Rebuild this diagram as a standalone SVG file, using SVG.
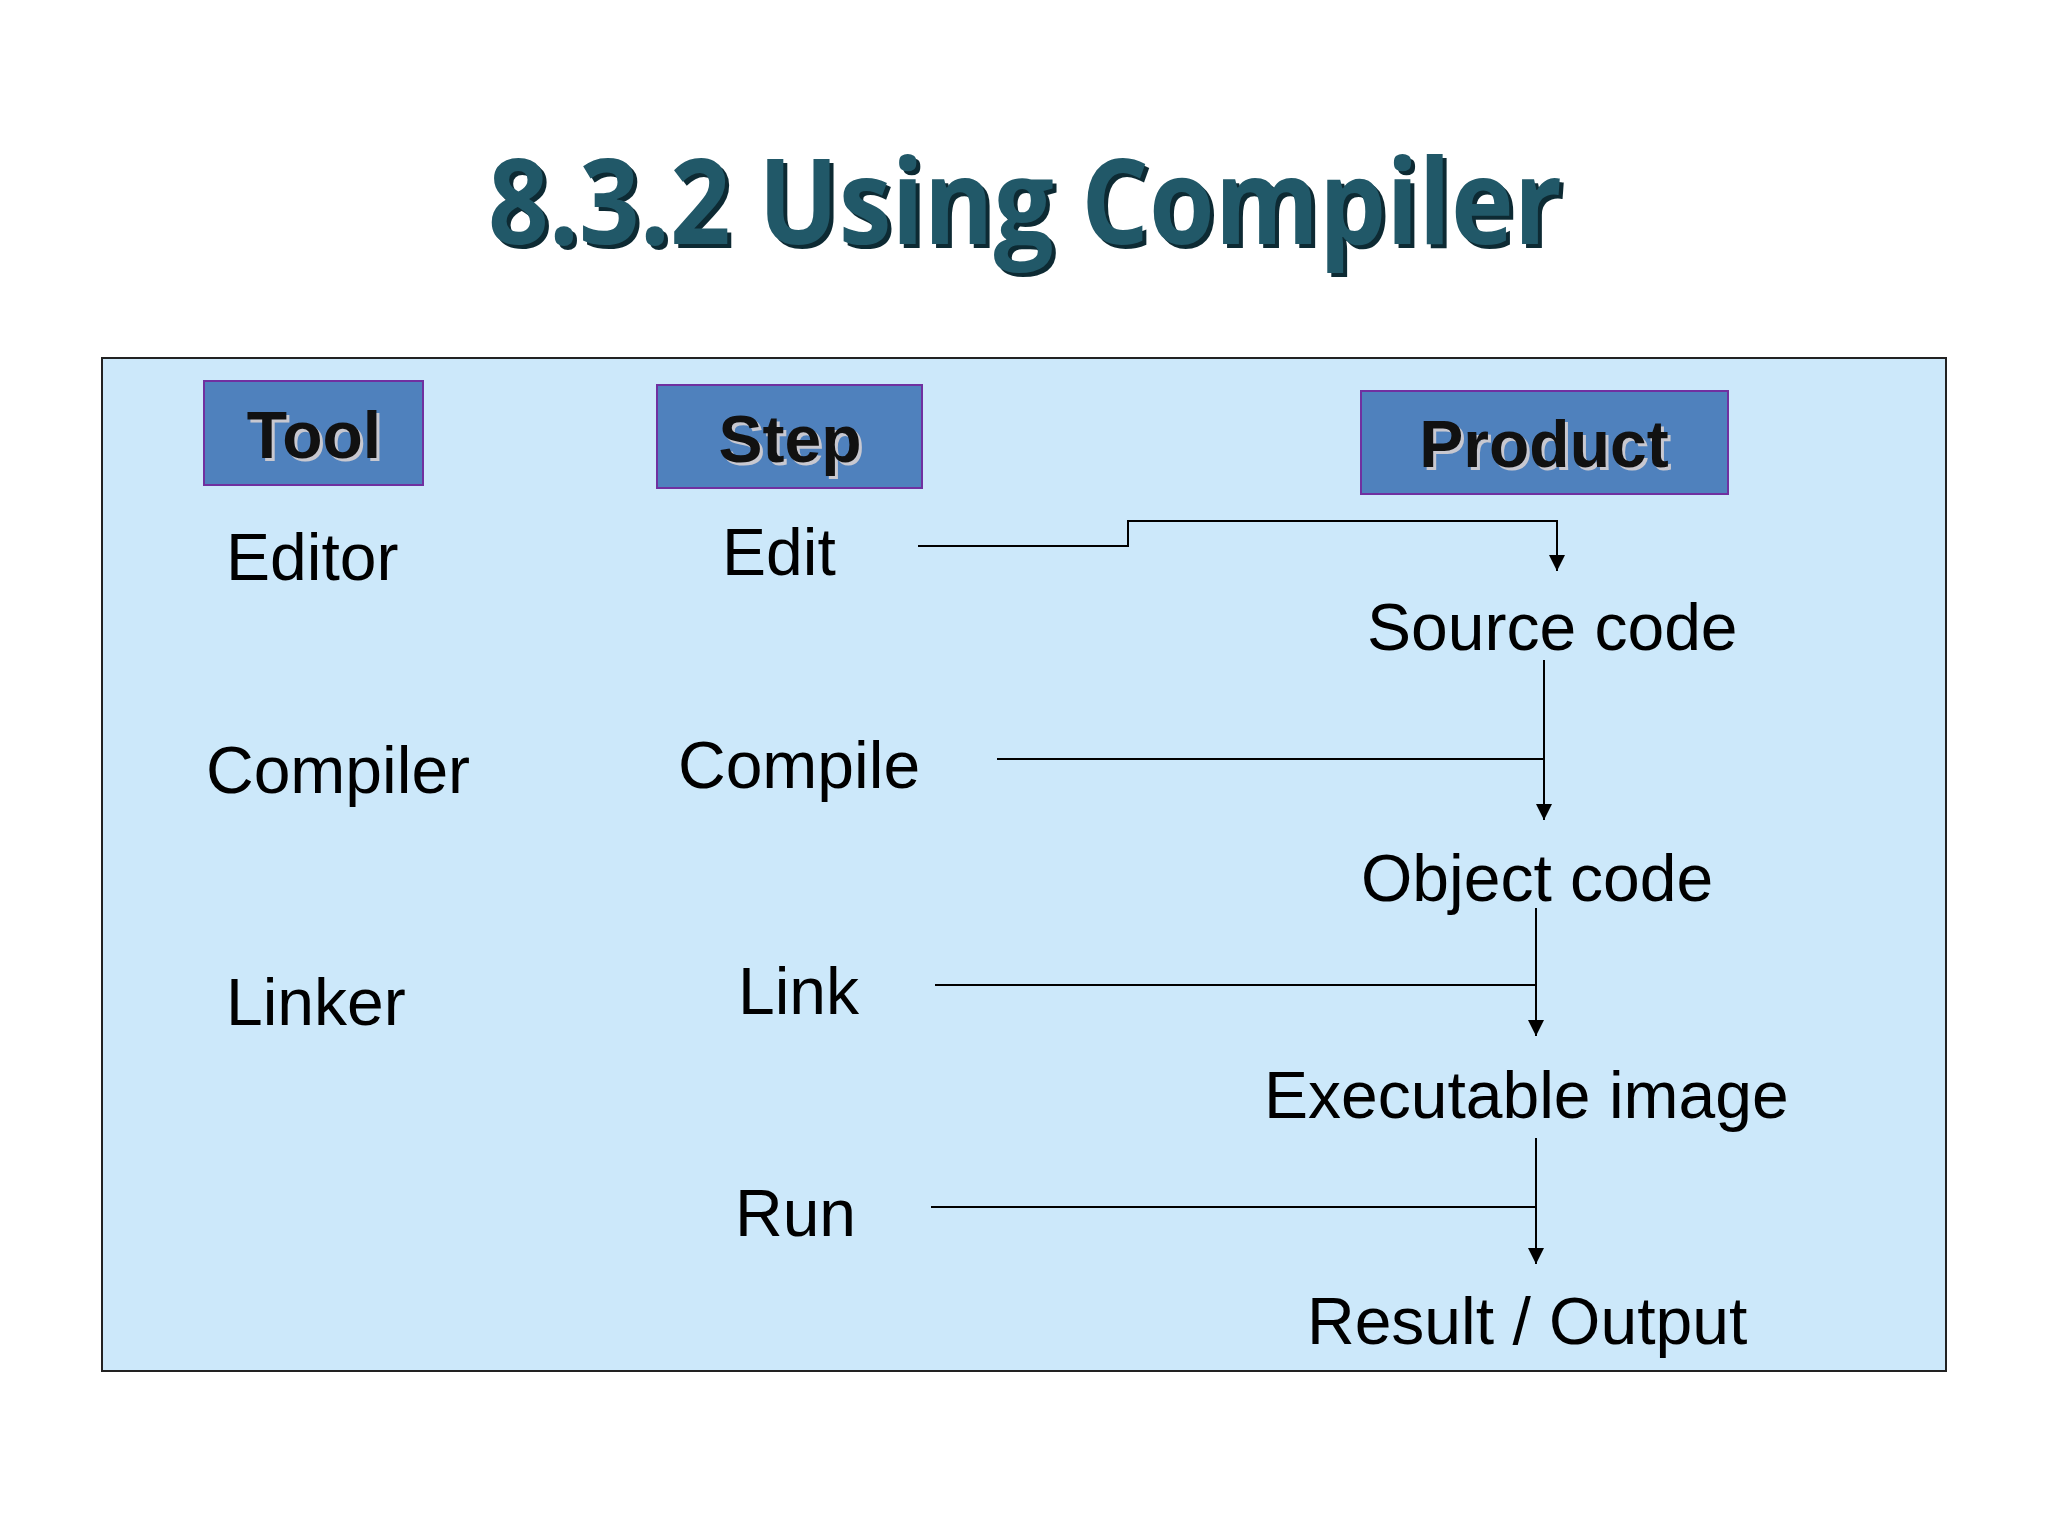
<svg xmlns="http://www.w3.org/2000/svg" width="2048" height="1536" viewBox="0 0 2048 1536">
<style>
.lbl{font-family:"Liberation Sans",Arial,sans-serif;font-size:66px;fill:#000}
.hdr{font-family:"Liberation Sans",Arial,sans-serif;font-size:66px;font-weight:bold;fill:#111;text-anchor:middle}
.hsh{font-family:"Liberation Sans",Arial,sans-serif;font-size:66px;font-weight:bold;fill:#c8c8d0;text-anchor:middle}
.box{fill:#4f81bd;stroke:#7030a0;stroke-width:2}
.ln{fill:none;stroke:#000;stroke-width:2}
</style>
<defs><marker id="ah" viewBox="0 0 10 10" refX="10" refY="5" markerWidth="8" markerHeight="8" orient="auto"><path d="M0,0L10,5L0,10z" fill="#000"/></marker></defs>
<rect width="2048" height="1536" fill="#fff"/>
<g id="title">
<text x="1029" y="248" font-family="Open Sans, sans-serif" font-weight="bold" font-size="118" fill="#0d2a33" text-anchor="middle" textLength="1074" lengthAdjust="spacingAndGlyphs">8.3.2 Using Compiler</text>
<text x="1025" y="244" font-family="Open Sans, sans-serif" font-weight="bold" font-size="118" fill="#215868" text-anchor="middle" textLength="1074" lengthAdjust="spacingAndGlyphs">8.3.2 Using Compiler</text>
</g>
<rect id="panel" x="102" y="358" width="1844" height="1013" fill="#cce8fa" stroke="#222" stroke-width="2"/>
<g id="tool"><rect class="box" x="204" y="381" width="219" height="104"/><text class="hsh" x="317" y="461">Tool</text><text class="hdr" x="314" y="458">Tool</text></g>
<g id="step"><rect class="box" x="657" y="385" width="265" height="103"/><text class="hsh" x="793" y="465">Step</text><text class="hdr" x="790" y="462">Step</text></g>
<g id="product"><rect class="box" x="1361" y="391" width="367" height="103"/><text class="hsh" x="1547" y="470">Product</text><text class="hdr" x="1544" y="467">Product</text></g>
<g id="editor"><text class="lbl" x="226" y="580">Editor</text></g>
<g id="edit"><text class="lbl" x="722" y="575">Edit</text></g>
<g id="source"><text class="lbl" x="1367" y="650">Source code</text></g>
<g id="compiler"><text class="lbl" x="206" y="793">Compiler</text></g>
<g id="compile"><text class="lbl" x="678" y="788">Compile</text></g>
<g id="object"><text class="lbl" x="1361" y="901">Object code</text></g>
<g id="linker"><text class="lbl" x="226" y="1025">Linker</text></g>
<g id="link"><text class="lbl" x="738" y="1014">Link</text></g>
<g id="exe"><text class="lbl" x="1264" y="1118">Executable image</text></g>
<g id="run"><text class="lbl" x="735" y="1236">Run</text></g>
<g id="result"><text class="lbl" x="1307" y="1344">Result / Output</text></g>
<g id="connectors">
<path class="ln" d="M918,546H1128V521H1557V571" marker-end="url(#ah)"/>
<path class="ln" d="M1544,660V820" marker-end="url(#ah)"/>
<path class="ln" d="M997,759H1544"/>
<path class="ln" d="M1536,908V1036" marker-end="url(#ah)"/>
<path class="ln" d="M935,985H1536"/>
<path class="ln" d="M1536,1138V1264" marker-end="url(#ah)"/>
<path class="ln" d="M931,1207H1536"/>
</g>
</svg>
